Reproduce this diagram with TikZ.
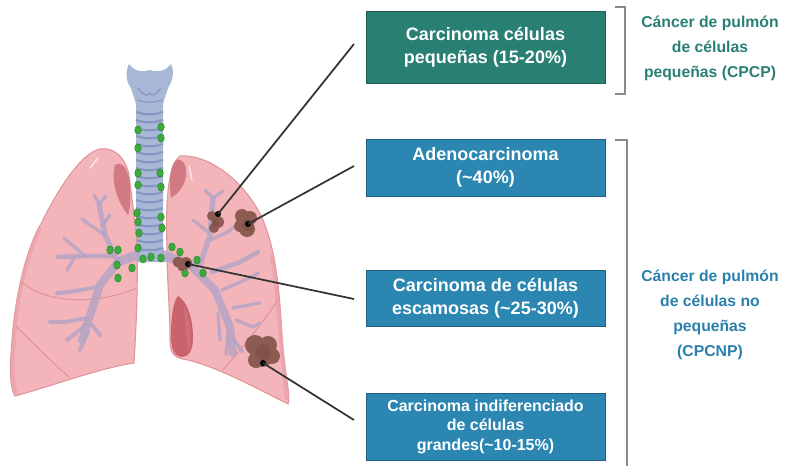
\documentclass[tikz,border=0pt]{standalone}
\usepackage{fontspec}
\setmainfont{Liberation Sans}
\definecolor{lungfill}{HTML}{F3B5BA}
\definecolor{lungedge}{HTML}{E0959B}
\definecolor{lungrim}{HTML}{EAA2A8}
\definecolor{apexdark}{HTML}{D27A83}
\definecolor{notchdark}{HTML}{C9646F}
\definecolor{trachfill}{HTML}{A8B7D6}
\definecolor{trachring}{HTML}{8697C2}
\definecolor{bronch}{HTML}{B3A4C6}
\definecolor{nodegreen}{HTML}{3DAA3D}
\definecolor{nodeedge}{HTML}{2A8A2A}
\definecolor{tumor}{HTML}{8C5C52}
\definecolor{tumordark}{HTML}{6E4038}
\definecolor{teal}{HTML}{2A7F73}
\definecolor{tealedge}{HTML}{1F5F56}
\definecolor{boxblue}{HTML}{2B86B1}
\definecolor{blueedge}{HTML}{1F5F80}
\definecolor{labelblue}{HTML}{2A80AC}
\definecolor{bracketgray}{HTML}{8A8A8A}
\definecolor{leader}{HTML}{333333}
\tikzset{
  typebox/.style={draw, line width=0.6pt, inner sep=0pt, text=white, align=center,
    minimum width=179.25pt, font=\bfseries\fontsize{13.5}{17.5}\selectfont},
  smallbox/.style={typebox, font=\bfseries\fontsize{12}{14.6}\selectfont},
  sidelabel/.style={align=center, inner sep=0pt, font=\bfseries\fontsize{11.8}{18.6}\selectfont},
  leaderline/.style={draw=leader, line width=1.3pt},
  tipdot/.style={fill=black, circle, inner sep=0pt, minimum size=4.5pt},
  brack/.style={draw=bracketgray, line width=1.5pt},
  lymph/.style={fill=nodegreen, draw=nodeedge, line width=0.4pt},
  bron/.style={draw=bronch, line cap=round, line join=round, opacity=0.8},
  ring/.style={draw=trachring, line width=1.6pt},
  fissure/.style={draw=lungedge, line width=0.8pt},
}
\begin{document}
\begin{tikzpicture}[x=0.75pt,y=-0.75pt]
\useasboundingbox (0,0) rectangle (785,465);

% ---------- trachea and larynx ----------
\fill[trachfill] (136,100) -- (136,240) .. controls (136,250) and (134,255) .. (132,262)
  -- (168,262) .. controls (165,255) and (163,250) .. (163,240) -- (163,100) -- cycle;
\foreach \yy in {112,120,...,248}
  \draw[ring] (136,\yy) .. controls (145,\yy+3) and (154,\yy+3) .. (163,\yy);
\fill[trachfill] (129,64) .. controls (133,70) and (140,73) .. (149.5,70)
  .. controls (159,73) and (167,70) .. (171,64) .. controls (175,72) and (172,82) .. (168,88)
  .. controls (166,95) and (164,100) .. (163,104) -- (136,104)
  .. controls (135,100) and (133,95) .. (131,88) .. controls (126,82) and (125,72) .. (129,64) -- cycle;
\draw[trachring, line width=0.9pt] (138,88) .. controls (143,95) and (147,97) .. (149.5,93)
  .. controls (152,97) and (156,95) .. (161,88);
\draw[trachring, line width=0.9pt] (137,100) .. controls (145,103) and (154,103) .. (162,100);

% ---------- right lung (left of the picture) ----------
\filldraw[fill=lungfill, draw=lungedge, line width=0.8pt]
  (100,149) .. controls (112,147) and (125,155) .. (129,175)
  .. controls (132,200) and (136,225) .. (137,250)
  .. controls (138,290) and (136,330) .. (134,363)
  .. controls (100,368) and (55,385) .. (15,396)
  .. controls (9,386) and (10,365) .. (12,340)
  .. controls (15,300) and (25,250) .. (42,222)
  .. controls (55,195) and (80,153) .. (100,149) -- cycle;
\draw[lungrim, opacity=0.7, line width=3pt] (40,228) .. controls (25,260) and (16,300) .. (14,340)
  .. controls (12,365) and (12,382) .. (16,393);
\fill[apexdark] (115,165) .. controls (122,160) and (129,170) .. (130,185)
  .. controls (131,200) and (130,210) .. (128,215)
  .. controls (120,205) and (110,185) .. (115,165) -- cycle;
\draw[white, opacity=0.7, line width=1pt, line cap=round] (98,158) -- (90,168);
\draw[fissure] (22,282) .. controls (40,300) and (90,308) .. (137,288);
\draw[fissure] (16,326) .. controls (35,345) and (55,365) .. (70,378);

% ---------- left lung (right of the picture) ----------
\filldraw[fill=lungfill, draw=lungedge, line width=0.8pt]
  (180,156) .. controls (205,154) and (238,175) .. (258,210)
  .. controls (275,240) and (280,290) .. (282,340)
  .. controls (284,370) and (291,395) .. (288,404)
  .. controls (260,390) and (220,368) .. (188,360)
  .. controls (175,358) and (170,355) .. (170,340)
  .. controls (170,310) and (167,280) .. (167,250)
  .. controls (166,210) and (166,168) .. (180,156) -- cycle;
\draw[lungrim, opacity=0.8, line width=3pt] (272,255) .. controls (279,300) and (281,350) .. (287,400);
\fill[apexdark] (176,160) .. controls (183,158) and (187,165) .. (186,175)
  .. controls (185,185) and (180,192) .. (171,198)
  .. controls (169,180) and (170,166) .. (176,160) -- cycle;
\draw[white, opacity=0.7, line width=1pt, line cap=round] (189,166) -- (192,180);
\fill[notchdark] (178,296) .. controls (188,302) and (193,320) .. (193,338)
  .. controls (193,350) and (189,357) .. (182,357)
  .. controls (174,356) and (171,350) .. (171,335)
  .. controls (171,318) and (173,302) .. (178,296) -- cycle;
\fill[apexdark, opacity=0.6] (184,305) .. controls (190,315) and (192,335) .. (189,352)
  .. controls (186,340) and (185,320) .. (184,305) -- cycle;
\draw[fissure] (223,370) .. controls (245,345) and (265,320) .. (279,298);

% ---------- bronchial trees ----------
\draw[bron, line width=7pt] (136,255) -- (118,262);
\draw[bron, line width=6pt] (118,262) -- (100,285) -- (82,340);
\draw[bron, line width=4pt] (118,262) -- (105,235) -- (99,204);
\draw[bron, line width=2.5pt] (99,204) -- (94,195) (99,204) -- (106,196)
  (103,225) -- (110,215) (105,235) -- (90,225) -- (82,219);
\draw[bron, line width=3.5pt] (112,256) -- (85,256) -- (58,257);
\draw[bron, line width=2.5pt] (85,256) -- (64,238) (75,257) -- (67,270);
\draw[bron, line width=3pt] (97,287) -- (70,292) -- (57,293)
  (88,318) -- (65,322) -- (50,322) (86,325) -- (67,340) (88,332) -- (80,350)
  (92,325) -- (100,335);

\draw[bron, line width=7pt] (164,255) -- (190,265);
\draw[bron, line width=6pt] (190,265) -- (215,290) -- (230,327) -- (233,353);
\draw[bron, line width=4pt] (200,265) -- (210,235) -- (213,198);
\draw[bron, line width=2.5pt] (213,198) -- (205,190) (213,198) -- (223,191)
  (208,232) -- (193,220) (210,240) -- (228,232) -- (240,222);
\draw[bron, line width=3.5pt] (212,272) -- (240,262) -- (258,252);
\draw[bron, line width=2.5pt] (222,290) -- (245,280) -- (258,273)
  (233,308) -- (260,303) (236,320) -- (253,327) -- (260,323)
  (218,313) -- (220,340) (228,333) -- (226,355) (234,340) -- (243,352);

% ---------- lymph nodes ----------
\foreach \px/\py in {138/130, 138/148, 138/173, 138/185, 137/213, 138/222, 139/233, 138/248,
    161/127, 161/138, 160/173, 161/187, 161/217, 162/228,
    143/259, 151/257, 161/258,
    110/250, 118/250, 117/265, 132/268, 118/278,
    172/247, 180/252, 197/260, 185/273, 203/273}
  \fill[lymph] (\px,\py) ellipse [x radius=3.3, y radius=4];

% ---------- tumours ----------
\fill[tumor] (212,216) circle [radius=5] (218,222) circle [radius=6] (214,228) circle [radius=5];
\fill[tumor] (242,216) circle [radius=7] (250,218) circle [radius=7]
  (247,229) circle [radius=8] (240,226) circle [radius=6];
\fill[tumor] (178,262) circle [radius=5.5] (186,263) circle [radius=6] (182,267) circle [radius=4.5];
\fill[tumor] (255,345) circle [radius=10] (268,345) circle [radius=9]
  (262,355) circle [radius=12] (272,356) circle [radius=8] (256,360) circle [radius=8];
\fill[tumordark, opacity=0.35] (248,225) circle [radius=6] (263,352) circle [radius=8] (215,223) circle [radius=4];

% ---------- type boxes ----------
\node[typebox, fill=teal, draw=tealedge, minimum height=54pt] (scc) at (485.5,47)
  {Carcinoma células\\pequeñas (15-20\%)};
\node[typebox, fill=boxblue, draw=blueedge, minimum height=42.75pt] (adeno) at (485.5,167.5)
  {Adenocarcinoma\\(\textasciitilde40\%)};
\node[typebox, fill=boxblue, draw=blueedge, minimum height=42pt] (squam) at (485.5,298)
  {Carcinoma de células\\escamosas (\textasciitilde25-30\%)};
\node[smallbox, fill=boxblue, draw=blueedge, minimum height=50.25pt] (large) at (485.5,426.5)
  {Carcinoma indiferenciado\\de células\\grandes(\textasciitilde10-15\%)};

% ---------- leader lines ----------
\node[tipdot] (d1) at (218,214) {};
\node[tipdot] (d2) at (248,224) {};
\node[tipdot] (d3) at (188,264) {};
\node[tipdot] (d4) at (263,363) {};
\coordinate (e1) at (354,44);
\coordinate (e2) at (354,166);
\coordinate (e3) at (354,299);
\coordinate (e4) at (354,420);
\draw[leaderline] (d1.center) -- (e1);
\draw[leaderline] (d2.center) -- (e2);
\draw[leaderline] (d3.center) -- (e3);
\draw[leaderline] (d4.center) -- (e4);

% ---------- brackets and group labels ----------
\coordinate (b1a) at (615,7);
\coordinate (b1b) at (615,94);
\draw[brack] (b1a) -- (625,7) -- (625,94) -- (b1b);
\coordinate (b2a) at (615,140);
\coordinate (b2b) at (627,470);
\draw[brack] (b2a) -- (627,140) -- (b2b);
\node[sidelabel, text=teal] (cpcp) at (710,48.5)
  {Cáncer de pulmón\\de células\\pequeñas (CPCP)};
\node[sidelabel, text=labelblue] (cpcnp) at (710,315)
  {Cáncer de pulmón\\de células no\\pequeñas\\(CPCNP)};
\end{tikzpicture}
\end{document}
